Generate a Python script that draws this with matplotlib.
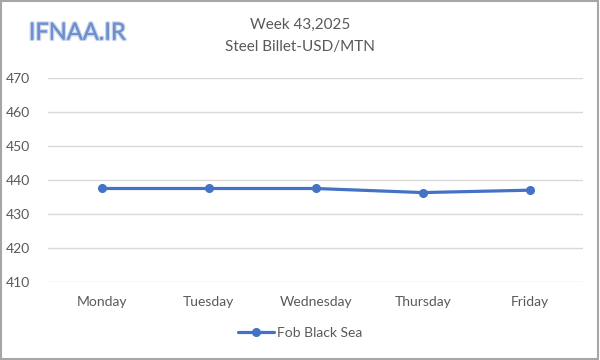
import matplotlib
matplotlib.use("Agg")
import matplotlib.pyplot as plt
import matplotlib.patheffects as pe
from matplotlib.patches import Rectangle

days = ["Monday", "Tuesday", "Wednesday", "Thursday", "Friday"]
fob_black_sea = [437.5, 437.5, 437.5, 436.3, 437.0]
yticks = [410, 420, 430, 440, 450, 460, 470]

plt.rcParams['font.family'] = ['Lato', 'DejaVu Sans']

fig = plt.figure(figsize=(6, 3.6), dpi=100)
ax = fig.add_axes([0.08, 0.217, 0.892, 0.566])

x = list(range(len(days)))
ax.plot(x, fob_black_sea, color="#4472C4", linewidth=2.3, marker="o",
        markersize=5.5, label="Fob Black Sea", solid_capstyle="round")

ax.set_xlim(-0.5, len(days) - 0.5)
ax.set_ylim(410, 470)
ax.set_yticks(yticks)
ax.set_xticks(x)
ax.set_xticklabels(days)
ax.grid(axis="y", color="#d9d9d9", linewidth=1)
ax.set_axisbelow(True)
for s in ax.spines.values():
    s.set_visible(False)
ax.tick_params(axis="both", length=0, colors="#595959", labelsize=10)
ax.tick_params(axis="x", pad=10)
ax.tick_params(axis="y", pad=13)

fig.text(0.5, 0.93, "Week 43,2025", ha="center", va="center", fontsize=11, color="#595959")
fig.text(0.5, 0.87, "Steel Billet-USD/MTN", ha="center", va="center", fontsize=11, color="#595959")

t = fig.text(0.048, 0.908, "IFNAA.IR", ha="left", va="center", fontsize=17, color="#6b8fd0",
             fontweight="normal")
t.set_path_effects([pe.withStroke(linewidth=2, foreground="#c8d3e8"), pe.Normal()])

leg = fig.legend(loc="center", bbox_to_anchor=(0.5, 0.075), frameon=False, fontsize=10,
                 handlelength=2.6, handletextpad=0.2)
for txt in leg.get_texts():
    txt.set_color("#595959")

fig.patches.append(Rectangle((0.002, 0.003), 0.995, 0.994, transform=fig.transFigure,
                             fill=False, edgecolor="#a6a6a6", linewidth=1.5))

fig.savefig("out.png", dpi=100)
